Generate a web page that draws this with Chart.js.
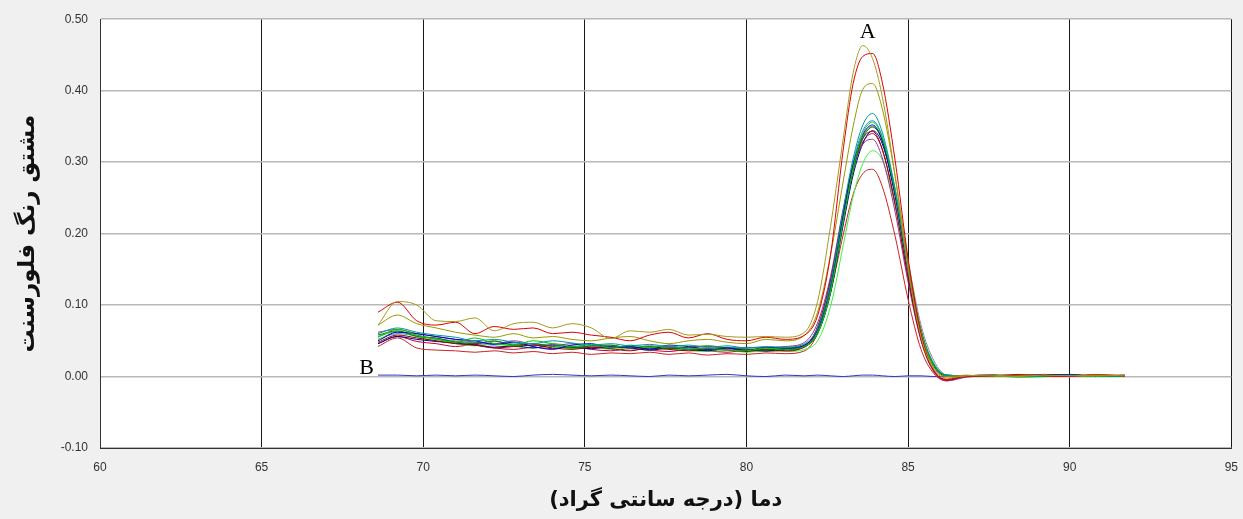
<!DOCTYPE html>
<html>
<head>
<meta charset="utf-8">
<script src="https://cdn.jsdelivr.net/npm/chart.js@4/dist/chart.umd.min.js"></script>
<style>
  html, body { margin: 0; padding: 0; background: #f0f0f0; }
  #wrap { width: 1243px; height: 519px; position: relative; }
</style>
</head>
<body>
<div id="wrap"><canvas id="melt"></canvas></div>
<script>
// temperature points (°C) shared by every curve
const temps = [68.6, 69.2, 69.8, 70.4, 71.0, 71.6, 72.2, 72.8, 73.4, 74.0, 74.6, 75.2, 75.8, 76.4, 77.0, 77.6, 78.2, 78.8, 79.4, 80.0, 80.6, 81.2,
  81.8, 82.2, 82.6, 83.0, 83.3, 83.6, 83.9, 84.2, 84.6, 85.0, 85.4, 85.8, 86.2,
  86.8, 87.6, 88.4, 89.2, 90.0, 90.8, 91.7];

const xTicks = [60, 65, 70, 75, 80, 85, 90, 95];
const yTicks = [-0.10, 0.00, 0.10, 0.20, 0.30, 0.40, 0.50];

// derivative of fluorescence, one array per sample
const oliveHigh = [0.072, 0.105, 0.100, 0.078, 0.077, 0.082, 0.064, 0.074, 0.076, 0.068, 0.074, 0.068, 0.053, 0.064, 0.062, 0.066, 0.058, 0.059, 0.056, 0.055, 0.056, 0.055,
  0.062, 0.105, 0.210, 0.335, 0.425, 0.463, 0.445, 0.392, 0.280, 0.150, 0.055, 0.010, -0.002,
  0.001, 0.002, 0.000, 0.002, 0.001, 0.002, 0.001];
const redHigh = [0.090, 0.104, 0.078, 0.072, 0.076, 0.060, 0.070, 0.066, 0.068, 0.060, 0.062, 0.058, 0.055, 0.050, 0.058, 0.062, 0.054, 0.060, 0.052, 0.050, 0.055, 0.052,
  0.058, 0.085, 0.170, 0.320, 0.410, 0.448, 0.452, 0.412, 0.302, 0.165, 0.060, 0.008, -0.004,
  0.000, 0.001, 0.003, 0.001, 0.000, 0.003, 0.001];
const oliveMid = [0.072, 0.086, 0.074, 0.068, 0.062, 0.058, 0.055, 0.060, 0.054, 0.056, 0.052, 0.050, 0.054, 0.056, 0.050, 0.046, 0.050, 0.052, 0.048, 0.046, 0.052, 0.050,
  0.058, 0.090, 0.170, 0.275, 0.350, 0.402, 0.410, 0.375, 0.280, 0.160, 0.062, 0.012, 0.000,
  0.002, 0.000, 0.001, 0.002, 0.000, 0.001, 0.002];
const teal = [0.060, 0.068, 0.062, 0.058, 0.055, 0.050, 0.052, 0.048, 0.046, 0.050, 0.047, 0.044, 0.046, 0.043, 0.045, 0.042, 0.044, 0.041, 0.043, 0.040, 0.042, 0.041,
  0.046, 0.068, 0.130, 0.235, 0.305, 0.352, 0.368, 0.342, 0.262, 0.155, 0.065, 0.018, 0.002,
  0.001, 0.002, 0.000, 0.001, 0.002, 0.001, 0.001];
const green = [0.055, 0.066, 0.058, 0.052, 0.048, 0.054, 0.046, 0.044, 0.050, 0.046, 0.042, 0.045, 0.040, 0.044, 0.041, 0.043, 0.038, 0.040, 0.037, 0.036, 0.040, 0.038,
  0.042, 0.060, 0.118, 0.220, 0.292, 0.340, 0.356, 0.334, 0.258, 0.152, 0.062, 0.015, 0.001,
  0.000, 0.001, -0.001, 0.000, 0.001, 0.000, 0.001];
const blue = [0.050, 0.062, 0.060, 0.056, 0.052, 0.050, 0.045, 0.048, 0.042, 0.038, 0.044, 0.046, 0.040, 0.042, 0.038, 0.044, 0.042, 0.038, 0.040, 0.036, 0.041, 0.039,
  0.044, 0.066, 0.128, 0.228, 0.296, 0.338, 0.352, 0.330, 0.252, 0.148, 0.060, 0.014, 0.001,
  0.001, 0.000, 0.002, 0.001, 0.003, 0.000, 0.001];
const darkGreen = [0.058, 0.064, 0.056, 0.054, 0.048, 0.046, 0.050, 0.044, 0.046, 0.042, 0.040, 0.043, 0.044, 0.040, 0.042, 0.039, 0.041, 0.043, 0.040, 0.038, 0.037, 0.040,
  0.043, 0.062, 0.120, 0.220, 0.288, 0.333, 0.349, 0.330, 0.256, 0.152, 0.064, 0.016, 0.001,
  0.000, 0.002, 0.001, 0.000, 0.001, 0.002, 0.000];
const darkRed = [0.048, 0.058, 0.054, 0.050, 0.046, 0.044, 0.040, 0.042, 0.044, 0.040, 0.038, 0.041, 0.039, 0.036, 0.040, 0.038, 0.036, 0.039, 0.037, 0.035, 0.038, 0.036,
  0.042, 0.070, 0.135, 0.232, 0.295, 0.333, 0.343, 0.318, 0.240, 0.138, 0.052, 0.008, -0.005,
  0.001, 0.002, 0.000, 0.001, 0.002, 0.001, 0.002];
const purple = [0.062, 0.066, 0.060, 0.056, 0.052, 0.048, 0.046, 0.050, 0.045, 0.043, 0.046, 0.041, 0.043, 0.040, 0.043, 0.041, 0.040, 0.042, 0.039, 0.041, 0.040, 0.042,
  0.048, 0.075, 0.140, 0.236, 0.295, 0.325, 0.332, 0.306, 0.230, 0.132, 0.050, 0.006, -0.006,
  -0.001, 0.001, 0.000, 0.002, 0.001, 0.000, 0.002];
const navy = [0.046, 0.056, 0.052, 0.049, 0.047, 0.044, 0.041, 0.043, 0.040, 0.044, 0.041, 0.039, 0.042, 0.040, 0.037, 0.040, 0.038, 0.036, 0.039, 0.037, 0.036, 0.038,
  0.042, 0.060, 0.116, 0.214, 0.282, 0.326, 0.344, 0.326, 0.254, 0.152, 0.064, 0.016, 0.002,
  0.001, 0.000, 0.001, 0.003, 0.002, 0.001, 0.001];
const lightGreen = [0.052, 0.062, 0.056, 0.050, 0.046, 0.043, 0.046, 0.042, 0.040, 0.043, 0.039, 0.041, 0.038, 0.040, 0.037, 0.039, 0.036, 0.035, 0.037, 0.034, 0.036, 0.035,
  0.038, 0.050, 0.098, 0.185, 0.252, 0.298, 0.316, 0.303, 0.240, 0.148, 0.064, 0.016, 0.001,
  0.000, 0.001, 0.000, 0.000, 0.002, 0.001, 0.000];
const redLow = [0.042, 0.054, 0.040, 0.037, 0.036, 0.034, 0.036, 0.033, 0.035, 0.032, 0.034, 0.031, 0.033, 0.032, 0.034, 0.031, 0.033, 0.030, 0.032, 0.031, 0.033, 0.032,
  0.036, 0.060, 0.118, 0.200, 0.255, 0.284, 0.290, 0.266, 0.196, 0.108, 0.038, 0.004, -0.006,
  0.000, 0.001, 0.002, 0.000, 0.001, 0.002, 0.001];
const gray = [0.056, 0.063, 0.058, 0.053, 0.050, 0.047, 0.049, 0.045, 0.043, 0.046, 0.043, 0.040, 0.042, 0.039, 0.041, 0.040, 0.038, 0.040, 0.039, 0.038, 0.040, 0.041,
  0.045, 0.064, 0.124, 0.224, 0.292, 0.336, 0.350, 0.332, 0.262, 0.162, 0.072, 0.022, 0.002,
  0.001, 0.000, 0.001, 0.001, 0.000, 0.001, 0.000];
const skyBlue = [0.052, 0.060, 0.057, 0.052, 0.049, 0.047, 0.044, 0.047, 0.043, 0.045, 0.041, 0.043, 0.040, 0.042, 0.039, 0.042, 0.040, 0.038, 0.041, 0.039, 0.038, 0.040,
  0.044, 0.068, 0.132, 0.232, 0.300, 0.344, 0.358, 0.336, 0.258, 0.152, 0.062, 0.015, 0.001,
  0.000, 0.002, 0.001, 0.000, 0.003, 0.001, 0.000];
const crimson = [0.046, 0.056, 0.049, 0.046, 0.042, 0.045, 0.040, 0.038, 0.041, 0.039, 0.042, 0.038, 0.036, 0.039, 0.037, 0.035, 0.038, 0.036, 0.034, 0.037, 0.035, 0.037,
  0.041, 0.066, 0.128, 0.226, 0.290, 0.328, 0.340, 0.318, 0.242, 0.140, 0.052, 0.008, -0.004,
  0.001, 0.000, 0.002, 0.000, 0.001, 0.000, 0.001];
// negative control (B)
const control = [0.002, 0.002, 0.001, 0.002, 0.001, 0.002, 0.001, 0.000, 0.002, 0.003, 0.002, 0.001, 0.002, 0.001, 0.000, 0.002, 0.001, 0.002, 0.003, 0.001, 0.000, 0.002,
  0.001, 0.002, 0.001, 0.000, 0.001, 0.002, 0.002, 0.001, 0.000, 0.001, 0.001, 0.000, 0.000,
  0.001, 0.002, 0.000, 0.001, 0.002, 0.001, 0.001];

const SERIES = [
  ['oliveHigh', oliveHigh, '#a89a1c'],
  ['redHigh', redHigh, '#dd0000'],
  ['oliveMid', oliveMid, '#999900'],
  ['teal', teal, '#009999'],
  ['green', green, '#00cc00'],
  ['blue', blue, '#0000cc'],
  ['darkGreen', darkGreen, '#007700'],
  ['darkRed', darkRed, '#990000'],
  ['purple', purple, '#993399'],
  ['navy', navy, '#000088'],
  ['lightGreen', lightGreen, '#44ee44'],
  ['redLow', redLow, '#cc2222'],
  ['gray', gray, '#888888'],
  ['skyBlue', skyBlue, '#3388dd'],
  ['crimson', crimson, '#bb0044'],
  ['control', control, '#3333cc'],
];

// curve labels placed in data coordinates
const marks = [['A', 83.75, 0.482], ['B', 68.25, 0.012]];

const xTitle = 'دما (درجه سانتی گراد)';
const yTitle = 'مشتق رنگ فلورسنت';

const plotBg = {
  id: 'plotBg',
  beforeDraw(chart) {
    const {ctx, chartArea: a} = chart;
    ctx.save();
    ctx.fillStyle = '#ffffff';
    ctx.fillRect(a.left, a.top, a.right - a.left, a.bottom - a.top);
    ctx.restore();
  },
  afterDatasetsDraw(chart) {
    const {ctx, scales: {x, y}} = chart;
    ctx.save();
    ctx.fillStyle = '#000';
    ctx.font = '22px "Liberation Serif", "Times New Roman", serif';
    ctx.textAlign = 'center';
    ctx.textBaseline = 'middle';
    marks.forEach(([t, vx, vy]) => ctx.fillText(t, x.getPixelForValue(vx), y.getPixelForValue(vy)));
    ctx.restore();
  }
};

const tickFont = {family: '"Liberation Sans", Arial, sans-serif', size: 12};
const titleFont = {family: '"DejaVu Sans", sans-serif', size: 21, weight: 'bold'};

new Chart(document.getElementById('melt'), {
  type: 'line',
  data: {
    datasets: SERIES.map(([name, vals, col]) => ({
      label: name,
      data: vals.map((v, i) => ({x: temps[i], y: v})),
      borderColor: col,
      borderWidth: 1,
      pointRadius: 0,
      fill: false,
      cubicInterpolationMode: 'monotone',
    }))
  },
  options: {
    responsive: true, maintainAspectRatio: false, animation: false,
    layout: {padding: {left: 0, top: 19, right: 5, bottom: 0}},
    plugins: {legend: {display: false}, tooltip: {enabled: false}},
    scales: {
      x: {
        type: 'linear', min: 60, max: 95,
        afterBuildTicks: s => { s.ticks = xTicks.map(v => ({value: v})); },
        afterFit: s => { s.height = 71; },
        grid: {color: '#1a1a1a', lineWidth: 1, drawTicks: true, tickLength: 7, tickColor: 'rgba(0,0,0,0)'},
        border: {color: '#333', width: 1},
        ticks: {font: tickFont, color: '#333', padding: 5, maxRotation: 0,
          callback: v => String(v)},
        title: {display: true, text: xTitle, font: titleFont, color: '#111', padding: {top: 0, bottom: 6}}
      },
      y: {
        min: -0.1, max: 0.5,
        afterBuildTicks: s => { s.ticks = yTicks.map(v => ({value: v})); },
        afterFit: s => { s.width = 100; },
        grid: {color: '#b8b8b8', lineWidth: 1.5, drawTicks: false},
        border: {color: '#333', width: 1},
        ticks: {font: tickFont, color: '#333', padding: 12,
          callback: v => v.toFixed(2)},
        title: {display: true, text: yTitle, font: {...titleFont, size: 23}, color: '#111', padding: {top: 14, bottom: 0}}
      }
    }
  },
  plugins: [plotBg]
});
</script>
</body>
</html>
